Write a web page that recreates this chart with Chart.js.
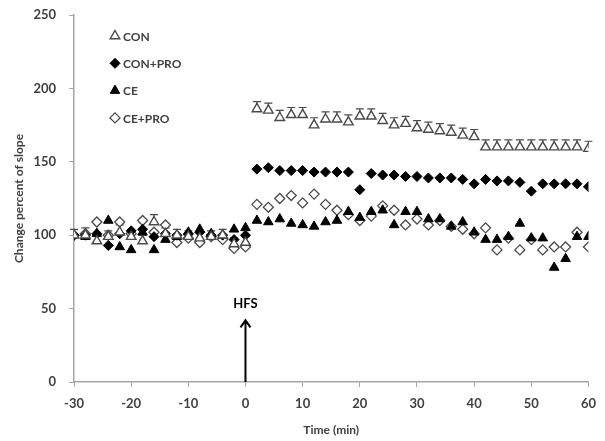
<!DOCTYPE html>
<html>
<head>
<meta charset="utf-8">
<script src="https://cdn.jsdelivr.net/npm/chart.js@4.4.1/dist/chart.umd.min.js"></script>
<style>
    html, body { margin: 0; padding: 0; background: #fff; }
    #wrap { width: 605px; height: 441px; }
</style>
</head>
<body>
<div id="wrap"><canvas id="ltpChart"></canvas></div>
<script>
// Time points (min)
const timePoints = [-30, -28, -26, -24, -22, -20, -18, -16, -14, -12, -10, -8, -6, -4, -2, 0,
    2, 4, 6, 8, 10, 12, 14, 16, 18, 20, 22, 24, 26, 28, 30,
    32, 34, 36, 38, 40, 42, 44, 46, 48, 50, 52, 54, 56, 58, 60];

// Change percent of slope
const conValues = [100, 100, 96, 99, 102, 99, 96, 109, 101, 100, 99, 98, 99, 100, 94, 95,
    186, 185, 180, 182, 182, 175, 179, 179, 177, 181, 181, 178, 175, 176, 173,
    172, 171, 170, 168, 167, 160, 160, 160, 160, 160, 160, 160, 160, 160, 159];
const conErrors = [4, 5, 4, 4, 5, 4, 4, 5, 4, 4, 4, 4, 4, 4, 4, 4,
    5, 5, 5, 5, 5, 5, 5, 5, 5, 5, 5, 5, 5, 5, 5,
    5, 5, 5, 5, 5, 5, 5, 5, 5, 5, 5, 5, 5, 5, 5];
const conProValues = [100, 100, 101, 93, 101, 103, 104, 99, 101, 100, 101, 102, 100, 100, 97, 100,
    145, 146, 144, 144, 144, 143, 143, 143, 143, 131, 142, 141, 141, 140, 140,
    139, 139, 139, 138, 135, 138, 137, 137, 136, 130, 135, 135, 135, 135, 133];
const ceValues = [100, 99, 101, 110, 92, 90, 102, 90, 97, 99, 102, 104, 101, 100, 104, 105,
    110, 109, 111, 108, 107, 106, 109, 110, 116, 112, 116, 117, 107, 116, 116,
    111, 111, 106, 109, 102, 97, 97, 99, 108, 98, 98, 78, 84, 99, 99];
const ceProValues = [100, 101, 109, 100, 109, 101, 110, 102, 107, 95, 98, 95, 99, 97, 91, 92,
    121, 119, 125, 127, 122, 128, 121, 117, 114, 110, 113, 120, 117, 107, 111,
    107, 110, 106, 104, 101, 105, 90, 98, 90, 97, 90, 92, 92, 102, 92];

const xTickMin = -30, xTickMax = 60, xTickStep = 10;
const yTickMin = 0, yTickMax = 250, yTickStep = 50;
const hfsLabel = 'HFS';
const hfsArrowTop = 42;
const hfsTextAt = 53;

const labelFont = '"Lato", "Open Sans", sans-serif';
const textColor = '#404040';
const axisColor = '#a6a6a6';

function toPoints(values) {
    return timePoints.map((t, i) => ({ x: t, y: values[i] }));
}

// Error bars (upward only, as in the figure)
const errorBarPlugin = {
    id: 'errorBars',
    beforeDatasetsDraw(chart) {
        const ctx = chart.ctx;
        const yScale = chart.scales.y;
        chart.data.datasets.forEach((ds, di) => {
            if (!ds.errors) return;
            const meta = chart.getDatasetMeta(di);
            ctx.save();
            ctx.strokeStyle = ds.borderColor;
            ctx.lineWidth = 1.2;
            meta.data.forEach((pt, i) => {
                const top = yScale.getPixelForValue(ds.data[i].y + ds.errors[i]);
                ctx.beginPath();
                ctx.moveTo(pt.x, pt.y);
                ctx.lineTo(pt.x, top);
                ctx.moveTo(pt.x - 4, top);
                ctx.lineTo(pt.x + 4, top);
                ctx.stroke();
            });
            ctx.restore();
        });
    }
};

// Legend drawn inside the plot area, top left
const innerLegendPlugin = {
    id: 'innerLegend',
    afterDraw(chart) {
        const ctx = chart.ctx;
        const x0 = 115, y0 = 36, gap = 27.3;
        chart.data.datasets.forEach((ds, i) => {
            const y = y0 + i * gap;
            ctx.save();
            ctx.fillStyle = ds.backgroundColor;
            ctx.strokeStyle = ds.borderColor;
            ctx.lineWidth = ds.pointBorderWidth;
            Chart.helpers.drawPoint(ctx, {
                pointStyle: ds.pointStyle,
                radius: ds.pointRadius,
                rotation: 0,
                borderWidth: ds.pointBorderWidth
            }, x0, y);
            ctx.fillStyle = textColor;
            ctx.font = 'bold 12px ' + labelFont;
            ctx.textBaseline = 'middle';
            ctx.fillText(ds.label, x0 + 8, y + 1);
            ctx.restore();
        });
    }
};

// HFS arrow at time zero
const hfsPlugin = {
    id: 'hfsArrow',
    afterDraw(chart) {
        const ctx = chart.ctx;
        const xs = chart.scales.x, ys = chart.scales.y;
        const x = xs.getPixelForValue(0);
        const yb = ys.getPixelForValue(0);
        const yt = ys.getPixelForValue(hfsArrowTop);
        ctx.save();
        ctx.strokeStyle = '#000';
        ctx.lineWidth = 2;
        ctx.beginPath();
        ctx.moveTo(x, yb);
        ctx.lineTo(x, yt);
        ctx.moveTo(x - 5, yt + 7);
        ctx.lineTo(x, yt);
        ctx.lineTo(x + 5, yt + 7);
        ctx.stroke();
        ctx.fillStyle = '#000';
        ctx.font = 'bold 13px ' + labelFont;
        ctx.textAlign = 'center';
        ctx.textBaseline = 'middle';
        ctx.fillText(hfsLabel, x, ys.getPixelForValue(hfsTextAt));
        ctx.restore();
    }
};

const ctx = document.getElementById('ltpChart');
new Chart(ctx, {
    type: 'scatter',
    data: {
        datasets: [
            {
                label: 'CON',
                data: toPoints(conValues),
                errors: conErrors,
                pointStyle: 'triangle',
                pointRadius: 5.5,
                pointBorderWidth: 1.4,
                backgroundColor: '#ffffff',
                borderColor: '#4a4a4a',
                order: 1
            },
            {
                label: 'CON+PRO',
                data: toPoints(conProValues),
                pointStyle: 'rectRot',
                pointRadius: 5,
                pointBorderWidth: 1,
                backgroundColor: '#000000',
                borderColor: '#000000',
                order: 2
            },
            {
                label: 'CE',
                data: toPoints(ceValues),
                pointStyle: 'triangle',
                pointRadius: 5.5,
                pointBorderWidth: 1,
                backgroundColor: '#000000',
                borderColor: '#000000',
                order: 3
            },
            {
                label: 'CE+PRO',
                data: toPoints(ceProValues),
                pointStyle: 'rectRot',
                pointRadius: 5,
                pointBorderWidth: 1.3,
                backgroundColor: '#ffffff',
                borderColor: '#4a4a4a',
                order: 4
            }
        ]
    },
    options: {
        responsive: true,
        maintainAspectRatio: false,
        animation: false,
        layout: { padding: { top: 15, right: 16, left: 8, bottom: 0 } },
        scales: {
            x: {
                type: 'linear',
                min: xTickMin,
                max: xTickMax,
                afterFit(scale) { scale.height = 59; },
                ticks: {
                    stepSize: xTickStep,
                    color: textColor,
                    font: { family: labelFont, size: 13, weight: 'bold' },
                    padding: 9
                },
                grid: {
                    drawOnChartArea: false,
                    color: axisColor,
                    tickLength: 5
                },
                border: { color: axisColor, width: 1.5 },
                title: {
                    display: true,
                    text: 'Time (min)',
                    color: textColor,
                    font: { family: labelFont, size: 12, weight: 'bold' },
                    padding: { top: 2 }
                }
            },
            y: {
                min: yTickMin,
                max: yTickMax,
                afterFit(scale) {
                    scale.width = 66;
                    scale.paddingTop = 8;
                    scale.paddingBottom = 8;
                },
                ticks: {
                    stepSize: yTickStep,
                    color: textColor,
                    font: { family: labelFont, size: 13, weight: 'bold' },
                    padding: 13
                },
                grid: {
                    drawOnChartArea: false,
                    color: axisColor,
                    tickLength: 5
                },
                border: { color: axisColor, width: 1.5 },
                title: {
                    display: true,
                    text: 'Change percent of slope',
                    color: textColor,
                    font: { family: labelFont, size: 12, weight: 'bold' },
                    padding: { bottom: 4 }
                }
            }
        },
        plugins: {
            legend: { display: false },
            tooltip: { enabled: false }
        }
    },
    plugins: [errorBarPlugin, innerLegendPlugin, hfsPlugin]
});
</script>
</body>
</html>
